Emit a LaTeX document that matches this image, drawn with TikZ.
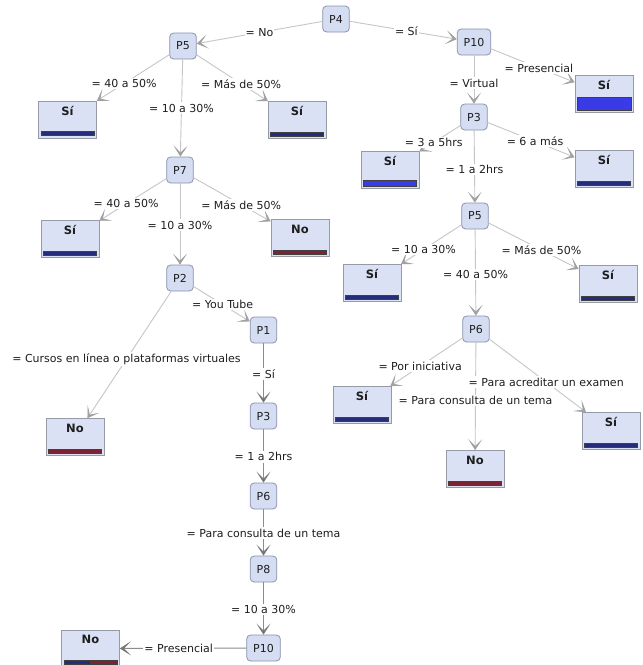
\documentclass[tikz,border=0pt]{standalone}
\usepackage{fontspec}
\setmainfont{DejaVu Sans}
\usetikzlibrary{arrows.meta,calc}
\definecolor{qfill}{HTML}{D5DDF3}
\definecolor{qdraw}{HTML}{8A93AE}
\definecolor{lfill}{HTML}{DAE1F5}
\definecolor{ldraw}{HTML}{959AA6}
\definecolor{elight}{HTML}{C6C6C6}
\definecolor{edark}{HTML}{8C8C8C}
\definecolor{ahead}{HTML}{A0A0A0}
\definecolor{aheaddark}{HTML}{767676}
\definecolor{navy}{HTML}{262C7C}
\definecolor{brightblue}{HTML}{3A3AE6}
\definecolor{maroon}{HTML}{7E2233}
\definecolor{txt}{HTML}{1E1E1E}
\newcommand{\lfbox}[5]{%
  \node[leaf] (#1) at (#2) {};
  \node[lt] (#1t) at ($(#1.north)+(0,10)$) {#3};
  \draw[fill=#4, draw=black!75, line width=0.5pt] ($(#1.south west)+(3,-3)$) rectangle ($(#1.south east)+(-3,-3-#5)$);
}
\begin{document}
\begin{tikzpicture}[x=1pt,y=-1pt,
  font=\fontsize{11}{13}\selectfont, text=txt,
  qnode/.style={draw=qdraw, fill=qfill, rounded corners=4pt, line width=0.8pt, minimum height=26pt, inner xsep=6.5pt, inner ysep=0pt},
  leaf/.style={draw=ldraw, fill=lfill, line width=0.8pt, minimum width=58pt, minimum height=37pt, inner sep=0pt},
  edge/.style={draw=elight, line width=0.9pt, -{Stealth[length=11pt,width=14pt,inset=7pt,line width=0.6pt,color=ahead]}},
  edged/.style={draw=edark, line width=1.1pt, -{Stealth[length=11pt,width=14pt,inset=7pt,line width=0.6pt,color=aheaddark]}},
  lbl/.style={fill=white, inner xsep=1pt, inner ysep=1.5pt},
  lt/.style={font=\fontsize{11.5}{13}\selectfont\bfseries, inner sep=0pt}
]
\useasboundingbox[fill=white] (0,0) rectangle (643,665);

% question nodes
\node[qnode] (P4) at (336,19) {P4};
\node[qnode] (P5a) at (183,46) {P5};
\node[qnode] (P10a) at (474,42) {P10};
\node[qnode] (P3a) at (474,117) {P3};
\node[qnode] (P7) at (180,170) {P7};
\node[qnode] (P2) at (180,278) {P2};
\node[qnode] (P1) at (263.5,330) {P1};
\node[qnode] (P3b) at (263.5,416) {P3};
\node[qnode] (P6b) at (263.5,496) {P6};
\node[qnode] (P8) at (263.5,569) {P8};
\node[qnode] (P10b) at (263.5,648) {P10};
\node[qnode] (P5b) at (475,216) {P5};
\node[qnode] (P6a) at (476,329) {P6};

% leaves
\lfbox{L1}{67.5,119.5}{Sí}{navy}{4}
\lfbox{L2}{297,120}{Sí}{navy}{4}
\node[leaf] (L3) at (604,94) {};
\node[lt] (L3t) at ($(L3.north)+(0,10)$) {Sí};
\draw[fill=brightblue, draw=black!75, line width=0.5pt] ($(L3.south west)+(2.5,-2.5)$) rectangle ($(L3.south east)+(-2.5,-16)$);
\lfbox{L4}{390,170}{Sí}{brightblue}{6}
\lfbox{L5}{604,169}{Sí}{navy}{4}
\lfbox{L6}{70,239}{Sí}{navy}{4}
\lfbox{L7}{300,238}{No}{maroon}{4}
\lfbox{L8}{372,283}{Sí}{navy}{4}
\lfbox{L9}{608,284}{Sí}{navy}{4}
\lfbox{L10}{75,437}{No}{maroon}{4}
\lfbox{L11}{362,405}{Sí}{navy}{4}
\lfbox{L12}{611,431}{Sí}{navy}{4}
\lfbox{L13}{475,469}{No}{maroon}{4}
\node[leaf] (L14) at (90.5,648.5) {};
\node[lt] (L14t) at ($(L14.north)+(0,10)$) {No};
\draw[fill=navy, draw=black!75, line width=0.5pt] ($(L14.south west)+(3,-3)$) rectangle ($(L14.south)+(0,-7)$);
\draw[fill=maroon, draw=black!75, line width=0.5pt] ($(L14.south)+(0,-3)$) rectangle ($(L14.south east)+(-3,-7)$);

% edges
\draw[edge] (P4) -- (P5a);
\draw[edge] (P4) -- (P10a);
\draw[edge] (P10a) -- (L3);
\draw[edge] (P10a) -- (P3a);
\draw[edge] (P5a) -- (L1);
\draw[edge] (P5a) -- (L2);
\draw[edge] (P5a) -- (P7);
\draw[edge] (P3a) -- (L4);
\draw[edge] (P3a) -- (L5);
\draw[edge] (P3a) -- (P5b);
\draw[edge] (P7) -- (L6);
\draw[edge] (P7) -- (L7);
\draw[edge] (P7) -- (P2);
\draw[edge] (P2) -- (L10);
\draw[edge] (P2) -- (P1);
\draw[edged] (P1) -- (P3b);
\draw[edged] (P3b) -- (P6b);
\draw[edged] (P6b) -- (P8);
\draw[edged] (P8) -- (P10b);
\draw[edged] (P10b) -- (L14);
\draw[edge] (P5b) -- (L8);
\draw[edge] (P5b) -- (L9);
\draw[edge] (P5b) -- (P6a);
\draw[edge] (P6a) -- (L11);
\draw[edge] (P6a) -- (L12);
\draw[edge] (P6a) -- (L13);

% edge labels
\node[lbl] (e1) at ($(P4)!0.5!(P5a)$) {= No};
\node[lbl] (e2) at ($(P4)!0.51!(P10a)$) {= Sí};
\node[lbl] (e3) at ($(P10a)!0.5!(L3)$) {= Presencial};
\node[lbl] (e4) at ($(P10a)!0.55!(P3a)$) {= Virtual};
\node[lbl] (e5) at ($(P5a)!0.51!(L1)$) {= 40 a 50\%};
\node[lbl] (e6) at ($(P5a)!0.51!(L2)$) {= Más de 50\%};
\node[lbl] (e7) at ($(P5a)!0.5!(P7)$) {= 10 a 30\%};
\node[lbl] (e8) at ($(P3a)!0.48!(L4)$) {= 3 a 5hrs};
\node[lbl] (e9) at ($(P3a)!0.47!(L5)$) {= 6 a más};
\node[lbl] (e10) at ($(P3a)!0.53!(P5b)$) {= 1 a 2hrs};
\node[lbl] (e11) at ($(P7)!0.49!(L6)$) {= 40 a 50\%};
\node[lbl] (e12) at ($(P7)!0.51!(L7)$) {= Más de 50\%};
\node[lbl] (e13) at ($(P7)!0.51!(P2)$) {= 10 a 30\%};
\node[lbl] (e14) at ($(P2)!0.51!(L10)$) {= Cursos en línea o plataformas virtuales};
\node[lbl] (e15) at ($(P2)!0.51!(P1)$) {= You Tube};
\node[lbl] (e16) at ($(P1)!0.51!(P3b)$) {= Sí};
\node[lbl] (e17) at ($(P3b)!0.51!(P6b)$) {= 1 a 2hrs};
\node[lbl] (e18) at ($(P6b)!0.51!(P8)$) {= Para consulta de un tema};
\node[lbl] (e19) at ($(P8)!0.51!(P10b)$) {= 10 a 30\%};
\node[lbl] (e20) at ($(P10b)!0.49!(L14)$) {= Presencial};
\node[lbl] (e21) at ($(P5b)!0.5!(L8)$) {= 10 a 30\%};
\node[lbl] (e22) at ($(P5b)!0.5!(L9)$) {= Más de 50\%};
\node[lbl] (e23) at ($(P5b)!0.52!(P6a)$) {= 40 a 50\%};
\node[lbl] (e24) at ($(P6a)!0.49!(L11)$) {= Por iniciativa};
\node[lbl] (e25) at ($(P6a)!0.52!(L12)$) {= Para acreditar un examen};
\node[lbl] (e26) at ($(P6a)!0.51!(L13)$) {= Para consulta de un tema};
\end{tikzpicture}
\end{document}
